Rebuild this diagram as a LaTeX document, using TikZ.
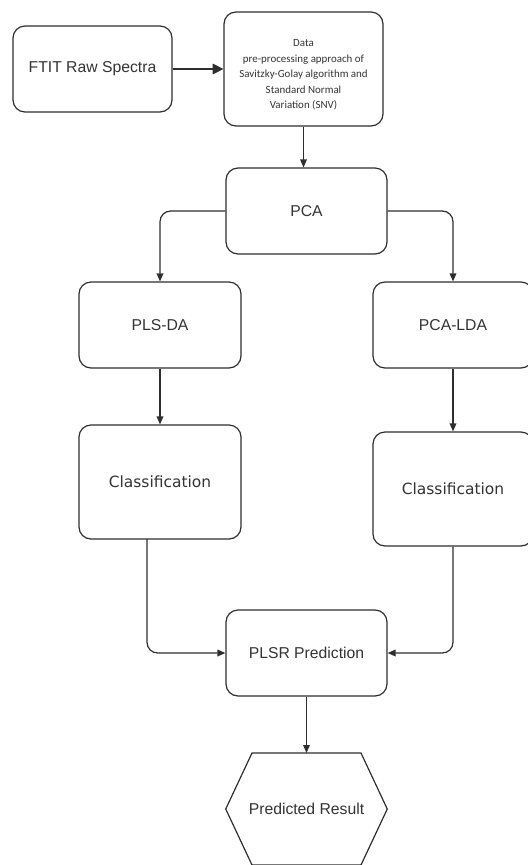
\documentclass[tikz,border=0pt]{standalone}
\usepackage{fontspec}
\setmainfont{Liberation Sans}
\newfontfamily\dejavu{DejaVu Sans}
\newfontfamily\carlito{Carlito}
\usetikzlibrary{arrows.meta}
\definecolor{ink}{HTML}{2E2E2E}
\definecolor{txt}{HTML}{333333}
\begin{document}
\begin{tikzpicture}[x=0.75pt,y=-0.75pt,
  box/.style={draw=ink, line width=0.9pt, rounded corners=9pt, inner sep=0pt,
    text=txt, font=\fontsize{11.8}{14}\selectfont, minimum height=64.5pt},
  conn/.style={draw=ink, line width=0.9pt, rounded corners=8pt,
    -{Stealth[length=6pt,width=5pt,inset=0pt]}},
  bigconn/.style={draw=ink, line width=0.9pt,
    -{Stealth[length=8pt,width=8pt,inset=0pt]}}]
\useasboundingbox (0,0) rectangle (528,865);
\node[box, minimum width=119.25pt] (ftit) at (92.5,69) {FTIT Raw Spectra};
\node[box, minimum width=119.25pt, minimum height=85.5pt] (data) at (303.5,69) {};
\node[text=txt, align=center, font=\carlito\fontsize{8.2}{11.6}\selectfont] (datatxt) at (303.5,75)
  {Data\\pre-processing approach of\\Savitzky-Golay algorithm and\\Standard Normal\\Variation (SNV)};
\node[box, minimum width=120.75pt] (pca) at (306.5,211) {PCA};
\node[box, minimum width=121.5pt] (plsda) at (160,325) {PLS-DA};
\node[box, minimum width=120pt] (pcalda) at (453,325) {PCA-LDA};
\node[box, minimum width=121.5pt, minimum height=85.5pt, font=\dejavu\fontsize{11.6}{14}\selectfont] (classl) at (160,482) {Classification};
\node[box, minimum width=120pt, minimum height=85.5pt, font=\dejavu\fontsize{11.6}{14}\selectfont] (classr) at (453,489) {Classification};
\node[box, minimum width=120.75pt] (plsr) at (306.5,653) {PLSR Prediction};
\node[inner sep=0pt, minimum width=120.75pt, minimum height=84pt, text=txt,
  font=\fontsize{11.8}{14}\selectfont] (pred) at (306.5,809) {Predicted Result};
\draw[draw=ink, line width=0.9pt, line join=miter]
  (252,753) -- (361,753) -- (pred.east) -- (361,865) -- (252,865) -- (pred.west) -- cycle;
\coordinate (predtop) at (306.5,753);
\coordinate (cltap) at (147,539);
\draw[bigconn] (ftit) -- (data);
\draw[conn] (data.south) -- (data.south |- pca.north);
\draw[conn] (pca.west) -| (plsda.north);
\draw[conn] (pca.east) -| (pcalda.north);
\draw[conn] (plsda.south) -- (classl.north);
\draw[conn] (pcalda.south) -- (classr.north);
\draw[conn] (cltap) |- (plsr.west);
\draw[conn] (classr.south) |- (plsr.east);
\draw[conn] (plsr.south) -- (predtop);
\end{tikzpicture}
\end{document}
